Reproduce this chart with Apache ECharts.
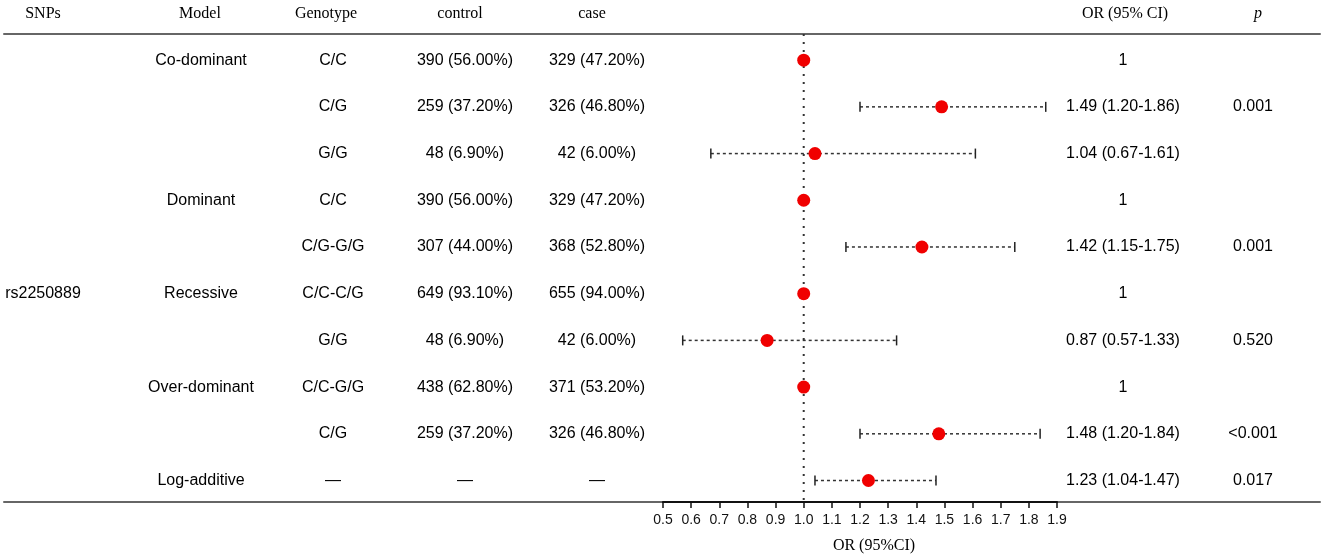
<!DOCTYPE html>
<html><head><meta charset="utf-8">
<script src="https://cdn.jsdelivr.net/npm/echarts@6/dist/echarts.min.js"></script>
<style>html,body{margin:0;padding:0;background:#fff}#c{width:1325px;height:560px}</style>
</head><body><div id="c"></div>
<script>
// ---- data ----
const headers = ['SNPs', 'Model', 'Genotype', 'control', 'case', 'OR (95% CI)', 'p'];
const snp = 'rs2250889';
const snpRow = 5;
const models = ['Co-dominant', '', '', 'Dominant', '', 'Recessive', '', 'Over-dominant', '', 'Log-additive'];
const genotypes = ['C/C', 'C/G', 'G/G', 'C/C', 'C/G-G/G', 'C/C-C/G', 'G/G', 'C/C-G/G', 'C/G', '\u2014'];
const controls = ['390 (56.00%)', '259 (37.20%)', '48 (6.90%)', '390 (56.00%)', '307 (44.00%)', '649 (93.10%)', '48 (6.90%)', '438 (62.80%)', '259 (37.20%)', '\u2014'];
const cases = ['329 (47.20%)', '326 (46.80%)', '42 (6.00%)', '329 (47.20%)', '368 (52.80%)', '655 (94.00%)', '42 (6.00%)', '371 (53.20%)', '326 (46.80%)', '\u2014'];
const orVals = [1, 1.49, 1.04, 1, 1.42, 1, 0.87, 1, 1.48, 1.23];
const lowerCI = [null, 1.20, 0.67, null, 1.15, null, 0.57, null, 1.20, 1.04];
const upperCI = [null, 1.86, 1.61, null, 1.75, null, 1.33, null, 1.84, 1.47];
const pVals = ['', '0.001', '', '', '0.001', '', '0.520', '', '<0.001', '0.017'];
const xTicks = [0.5, 0.6, 0.7, 0.8, 0.9, 1.0, 1.1, 1.2, 1.3, 1.4, 1.5, 1.6, 1.7, 1.8, 1.9];

// ---- layout ----
const SANS = '"Liberation Sans", Arial, sans-serif';
const SERIF = '"Liberation Serif", "Times New Roman", serif';
const Y_MIN = -0.56, Y_MAX = 9.46;
const headerX = [43, 200, 326, 460, 592, 1125, 1258];
const colX = {snp: 43, model: 201, geno: 333, control: 465, cas: 597, or: 1123, p: 1253};

const orText = orVals.map((v, i) => lowerCI[i] == null ? String(v) :
  v.toFixed(2) + ' (' + lowerCI[i].toFixed(2) + '-' + upperCI[i].toFixed(2) + ')');

function textSeries(x, texts, rowIdx) {
  const data = [];
  texts.forEach((t, i) => { if (t !== '') data.push({value: [x, rowIdx ? rowIdx[i] : i], label: {formatter: t}}); });
  return {
    type: 'scatter', xAxisIndex: 1, yAxisIndex: 1, symbolSize: 0.1, silent: true, clip: false,
    itemStyle: {color: 'transparent', opacity: 1},
    label: {show: true, position: 'inside', color: '#000', fontFamily: SANS, fontSize: 16, opacity: 1},
    data: data
  };
}

const ciData = [];
orVals.forEach((v, i) => { if (lowerCI[i] != null) ciData.push([lowerCI[i], upperCI[i], i]); });

const chart = echarts.init(document.getElementById('c'));
chart.setOption({
  animation: false,
  backgroundColor: '#fff',
  grid: [
    {left: 663, right: 1325 - 1057, top: 34, bottom: 58},
    {left: 4, right: 5, top: 34, bottom: 58}
  ],
  xAxis: [
    {type: 'value', gridIndex: 0, min: 0.5, max: 1.9, interval: 0.1, position: 'bottom', z: 5,
     axisLine: {show: true, onZero: false, lineStyle: {color: '#111', width: 2}},
     axisTick: {show: true, length: 6, lineStyle: {color: '#111', width: 1.5}},
     axisLabel: {show: true, margin: 11, fontSize: 14, fontFamily: SANS, color: '#111', formatter: v => v.toFixed(1)},
     splitLine: {show: false},
     name: 'OR (95%CI)', nameLocation: 'middle', nameGap: 36,
     nameTextStyle: {fontFamily: SERIF, fontSize: 16, color: '#000', padding: [0, 0, 0, 28]}},
    {type: 'value', gridIndex: 1, min: 4, max: 1320, position: 'bottom',
     axisLine: {show: true, onZero: false, lineStyle: {color: '#666', width: 2}},
     axisTick: {show: false}, axisLabel: {show: false}, splitLine: {show: false}},
    {type: 'value', gridIndex: 1, min: 4, max: 1320, position: 'top',
     axisLine: {show: true, onZero: false, lineStyle: {color: '#666', width: 2}},
     axisTick: {show: false}, axisLabel: {show: false}, splitLine: {show: false}}
  ],
  yAxis: [
    {type: 'value', gridIndex: 0, min: Y_MIN, max: Y_MAX, inverse: true, show: false},
    {type: 'value', gridIndex: 1, min: Y_MIN, max: Y_MAX, inverse: true, show: false}
  ],
  graphic: headers.map((h, i) => ({
    type: 'text', x: headerX[i], y: 14, silent: true,
    style: {text: h, fontFamily: SERIF, fontSize: 16, fontStyle: h === 'p' ? 'italic' : 'normal',
            fill: '#000', align: 'center', verticalAlign: 'middle'}
  })),
  series: [
    {type: 'line', xAxisIndex: 0, yAxisIndex: 0, symbol: 'none', silent: true, z: 1,
     data: [[1, Y_MIN], [1, Y_MAX]],
     lineStyle: {color: '#333', width: 2, type: [2, 6]}},
    {type: 'custom', xAxisIndex: 0, yAxisIndex: 0, silent: true, z: 2,
     encode: {x: [0, 1], y: 2},
     renderItem: function (params, api) {
       const lo = api.coord([api.value(0), api.value(2)]);
       const hi = api.coord([api.value(1), api.value(2)]);
       const h = 5;
       return {type: 'group', children: [
         {type: 'line', shape: {x1: lo[0], y1: lo[1], x2: hi[0], y2: hi[1]},
          style: {stroke: '#333', lineWidth: 1.5, lineDash: [3, 3]}},
         {type: 'line', shape: {x1: lo[0], y1: lo[1] - h, x2: lo[0], y2: lo[1] + h},
          style: {stroke: '#222', lineWidth: 1.5}},
         {type: 'line', shape: {x1: hi[0], y1: hi[1] - h, x2: hi[0], y2: hi[1] + h},
          style: {stroke: '#222', lineWidth: 1.5}}
       ]};
     },
     data: ciData},
    {type: 'scatter', xAxisIndex: 0, yAxisIndex: 0, symbol: 'circle', symbolSize: 13, z: 3, silent: true,
     itemStyle: {color: '#f00000', opacity: 1},
     data: orVals.map((v, i) => [v, i])},
    textSeries(colX.snp, [snp], [snpRow]),
    textSeries(colX.model, models),
    textSeries(colX.geno, genotypes),
    textSeries(colX.control, controls),
    textSeries(colX.cas, cases),
    textSeries(colX.or, orText),
    textSeries(colX.p, pVals)
  ]
});
</script></body></html>
